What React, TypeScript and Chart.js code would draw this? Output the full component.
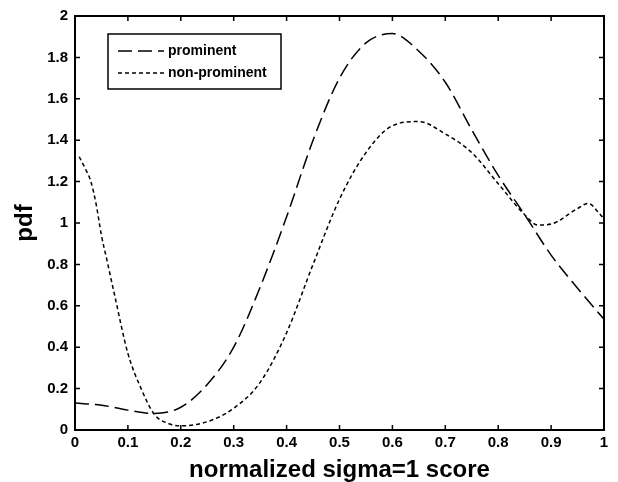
import React, { useEffect, useRef } from "react";
import { Chart, registerables } from "chart.js";

Chart.register(...registerables);

const xTicks = [0, 0.1, 0.2, 0.3, 0.4, 0.5, 0.6, 0.7, 0.8, 0.9, 1];
const xTickLabels = ["0", "0.1", "0.2", "0.3", "0.4", "0.5", "0.6", "0.7", "0.8", "0.9", "1"];
const yTicks = [0, 0.2, 0.4, 0.6, 0.8, 1, 1.2, 1.4, 1.6, 1.8, 2];
const yTickLabels = ["0", "0.2", "0.4", "0.6", "0.8", "1", "1.2", "1.4", "1.6", "1.8", "2"];

const prominentX = [0, 0.05, 0.1, 0.15, 0.2, 0.25, 0.3, 0.35, 0.4, 0.45, 0.5, 0.55, 0.6, 0.65, 0.7, 0.75, 0.8, 0.85, 0.9, 0.95, 1.0];
const prominentY = [0.13, 0.12, 0.096, 0.08, 0.11, 0.22, 0.4, 0.69, 1.03, 1.4, 1.7, 1.87, 1.915, 1.83, 1.68, 1.45, 1.23, 1.04, 0.845, 0.685, 0.535];

const nonProminentX = [0.008, 0.02, 0.03, 0.04, 0.05, 0.06, 0.075, 0.1, 0.125, 0.15, 0.175, 0.2, 0.25, 0.3, 0.35, 0.4, 0.45, 0.5, 0.55, 0.6, 0.65, 0.7, 0.75, 0.8, 0.85, 0.875, 0.9, 0.95, 0.97, 0.99, 1.0];
const nonProminentY = [1.32, 1.26, 1.2, 1.09, 0.94, 0.825, 0.65, 0.37, 0.2, 0.075, 0.033, 0.02, 0.04, 0.105, 0.23, 0.47, 0.8, 1.115, 1.34, 1.47, 1.49, 1.43, 1.34, 1.19, 1.04, 0.99, 0.995, 1.07, 1.095, 1.05, 1.02];

const seriesLabels = ["prominent", "non-prominent"];
const FONT = "'Liberation Sans', Arial, Helvetica, sans-serif";

const framePlugin = {
  id: "frameAndLegend",
  afterDraw(chart: any) {
    const { ctx, chartArea } = chart;
    const { left, right, top, bottom } = chartArea;
    const xs = chart.scales.x;
    const ys = chart.scales.y;
    ctx.save();
    ctx.strokeStyle = "#000";
    ctx.lineWidth = 1.5;
    ctx.setLineDash([]);
    ctx.beginPath();
    xTicks.forEach((v) => {
      const px = xs.getPixelForValue(v);
      ctx.moveTo(px, bottom);
      ctx.lineTo(px, bottom - 5);
      ctx.moveTo(px, top);
      ctx.lineTo(px, top + 5);
    });
    yTicks.forEach((v) => {
      const py = ys.getPixelForValue(v);
      ctx.moveTo(left, py);
      ctx.lineTo(left + 5, py);
      ctx.moveTo(right, py);
      ctx.lineTo(right - 5, py);
    });
    ctx.stroke();
    ctx.lineWidth = 2;
    ctx.strokeRect(left, top, right - left, bottom - top);

    const lx = left + 33;
    const ly = top + 18;
    const lw = 173;
    const lh = 55;
    ctx.fillStyle = "#fff";
    ctx.fillRect(lx, ly, lw, lh);
    ctx.lineWidth = 1.5;
    ctx.strokeRect(lx, ly, lw, lh);
    chart.data.datasets.forEach((ds: any, i: number) => {
      const cy = ly + 17 + i * 22;
      ctx.beginPath();
      ctx.lineWidth = 1.5;
      ctx.setLineDash(ds.borderDash || []);
      ctx.moveTo(lx + 10, cy);
      ctx.lineTo(lx + 56, cy);
      ctx.stroke();
      ctx.setLineDash([]);
      ctx.fillStyle = "#000";
      ctx.font = `bold 14px ${FONT}`;
      ctx.textBaseline = "middle";
      ctx.textAlign = "left";
      ctx.fillText(ds.label, lx + 60, cy);
    });
    ctx.restore();
  },
};

export default function App() {
  const canvasRef = useRef<HTMLCanvasElement | null>(null);

  useEffect(() => {
    document.body.style.margin = "0";
    const canvas = canvasRef.current;
    if (!canvas) return;
    const chart = new Chart(canvas, {
      type: "line",
      data: {
        datasets: [
          {
            label: seriesLabels[0],
            data: prominentX.map((x, i) => ({ x, y: prominentY[i] })),
            borderColor: "#000",
            borderWidth: 1.5,
            borderDash: [14, 6],
            pointRadius: 0,
            cubicInterpolationMode: "monotone",
            fill: false,
          },
          {
            label: seriesLabels[1],
            data: nonProminentX.map((x, i) => ({ x, y: nonProminentY[i] })),
            borderColor: "#000",
            borderWidth: 1.5,
            borderDash: [4, 3],
            pointRadius: 0,
            cubicInterpolationMode: "monotone",
            fill: false,
          },
        ],
      },
      options: {
        animation: false,
        responsive: false,
        devicePixelRatio: 1,
        layout: { padding: { left: 0, right: 14, top: 14, bottom: 0 } },
        plugins: {
          legend: { display: false },
          tooltip: { enabled: false },
        },
        scales: {
          x: {
            type: "linear",
            min: 0,
            max: 1,
            afterBuildTicks: (scale: any) => {
              scale.ticks = xTicks.map((v) => ({ value: v }));
            },
            afterFit: (scale: any) => {
              scale.height = 52;
            },
            ticks: {
              color: "#000",
              font: { family: FONT, size: 15, weight: "bold" },
              padding: 4,
              maxRotation: 0,
              autoSkip: false,
              callback: (_v: any, i: number) => xTickLabels[i],
            },
            grid: { display: false, drawTicks: false },
            border: { display: false },
            title: {
              display: true,
              text: "normalized sigma=1 score",
              color: "#000",
              font: { family: FONT, size: 24, weight: "bold", lineHeight: 1 },
              padding: { top: 0, bottom: 0 },
            },
          },
          y: {
            type: "linear",
            min: 0,
            max: 2,
            afterBuildTicks: (scale: any) => {
              scale.ticks = yTicks.map((v) => ({ value: v }));
            },
            afterFit: (scale: any) => {
              scale.width = 75;
            },
            ticks: {
              color: "#000",
              font: { family: FONT, size: 15, weight: "bold" },
              padding: 7,
              autoSkip: false,
              callback: (_v: any, i: number) => yTickLabels[i],
            },
            grid: { display: false, drawTicks: false },
            border: { display: false },
            title: {
              display: true,
              text: "pdf",
              color: "#000",
              font: { family: FONT, size: 24, weight: "bold", lineHeight: 1 },
              padding: { top: 13, bottom: 0 },
            },
          },
        },
      },
      plugins: [framePlugin],
    });
    return () => chart.destroy();
  }, []);

  return (
    <div style={{ width: 618, height: 482 }}>
      <canvas ref={canvasRef} width={618} height={482} style={{ display: "block" }} />
    </div>
  );
}
